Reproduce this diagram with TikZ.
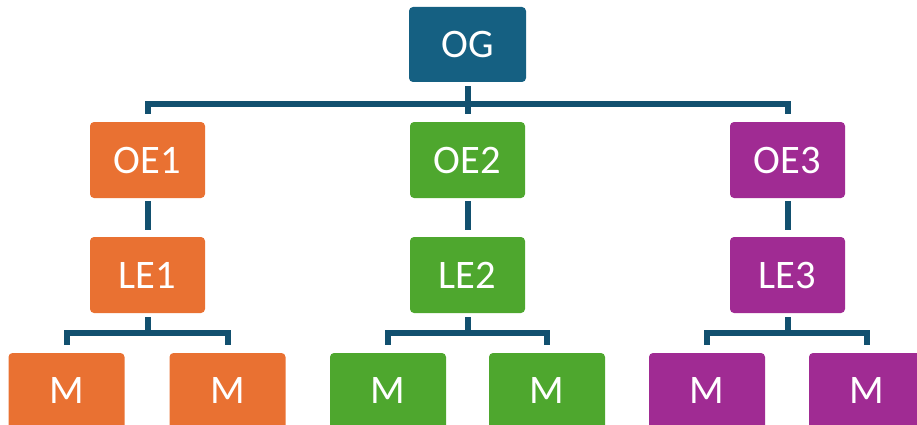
\documentclass[tikz,border=0pt]{standalone}
\usepackage{fontspec}
\setmainfont{Carlito}
\usetikzlibrary{calc}
\definecolor{cog}{HTML}{156082}
\definecolor{corange}{HTML}{E97132}
\definecolor{cgreen}{HTML}{4EA72E}
\definecolor{cpurple}{HTML}{A02B93}
\definecolor{cline}{HTML}{12506F}
\begin{document}
\begin{tikzpicture}[x=1pt,y=-1pt,
  box/.style={rounded corners=4pt, minimum width=115pt, minimum height=76pt, inner sep=0pt, text=white, font=\fontsize{40.5}{40.5}\selectfont},
  mbox/.style={box, minimum width=116pt},
  conn/.style={draw=cline, line width=6pt, line join=miter}]
\useasboundingbox (0,0) rectangle (917,425);
\clip (0,0) rectangle (917,425);
% top
\node[box,fill=cog,minimum width=117pt,minimum height=75pt] (og) at (467.5,44.5) {OG};
% OE row
\node[box,fill=corange] (oe1) at (147.5,160) {OE1};
\node[box,fill=cgreen]  (oe2) at (467.5,160) {OE2};
\node[box,fill=cpurple] (oe3) at (787.5,160) {OE3};
% LE row
\node[box,fill=corange] (le1) at (147.5,275) {LE1};
\node[box,fill=cgreen]  (le2) at (467.5,275) {LE2};
\node[box,fill=cpurple] (le3) at (787.5,275) {LE3};
% M row
\node[mbox,fill=corange] (m11) at (66.5,391) {M};
\node[mbox,fill=corange] (m12) at (227.5,391) {M};
\node[mbox,fill=cgreen]  (m21) at (388,391) {M};
\node[mbox,fill=cgreen]  (m22) at (547,391) {M};
\node[mbox,fill=cpurple] (m31) at (707,391) {M};
\node[mbox,fill=cpurple] (m32) at (867,391) {M};
% connectors top
\coordinate (j0) at ($(og.south)+(0,22)$);
\draw[conn] ($(og.south)+(0,4)$) -- ($(oe2.north)+(0,-8)$);
\draw[conn] ($(oe1.north)+(0,-8)$) |- (j0) -| ($(oe3.north)+(0,-8)$);
% OE to LE
\draw[conn] ($(oe1.south)+(0,3)$) -- ($(le1.north)+(0,-7)$);
\draw[conn] ($(oe2.south)+(0,3)$) -- ($(le2.north)+(0,-7)$);
\draw[conn] ($(oe3.south)+(0,3)$) -- ($(le3.north)+(0,-7)$);
% LE to M
\coordinate (j1) at ($(le1.south)+(0,20)$);
\coordinate (j2) at ($(le2.south)+(0,20)$);
\coordinate (j3) at ($(le3.south)+(0,20)$);
\draw[conn] ($(le1.south)+(0,4)$) -- (j1);
\draw[conn] ($(le2.south)+(0,4)$) -- (j2);
\draw[conn] ($(le3.south)+(0,4)$) -- (j3);
\draw[conn] ($(m11.north)+(0,-8)$) |- (j1) -| ($(m12.north)+(0,-8)$);
\draw[conn] ($(m21.north)+(0,-8)$) |- (j2) -| ($(m22.north)+(0,-8)$);
\draw[conn] ($(m31.north)+(0,-8)$) |- (j3) -| ($(m32.north)+(0,-8)$);
\end{tikzpicture}
\end{document}
